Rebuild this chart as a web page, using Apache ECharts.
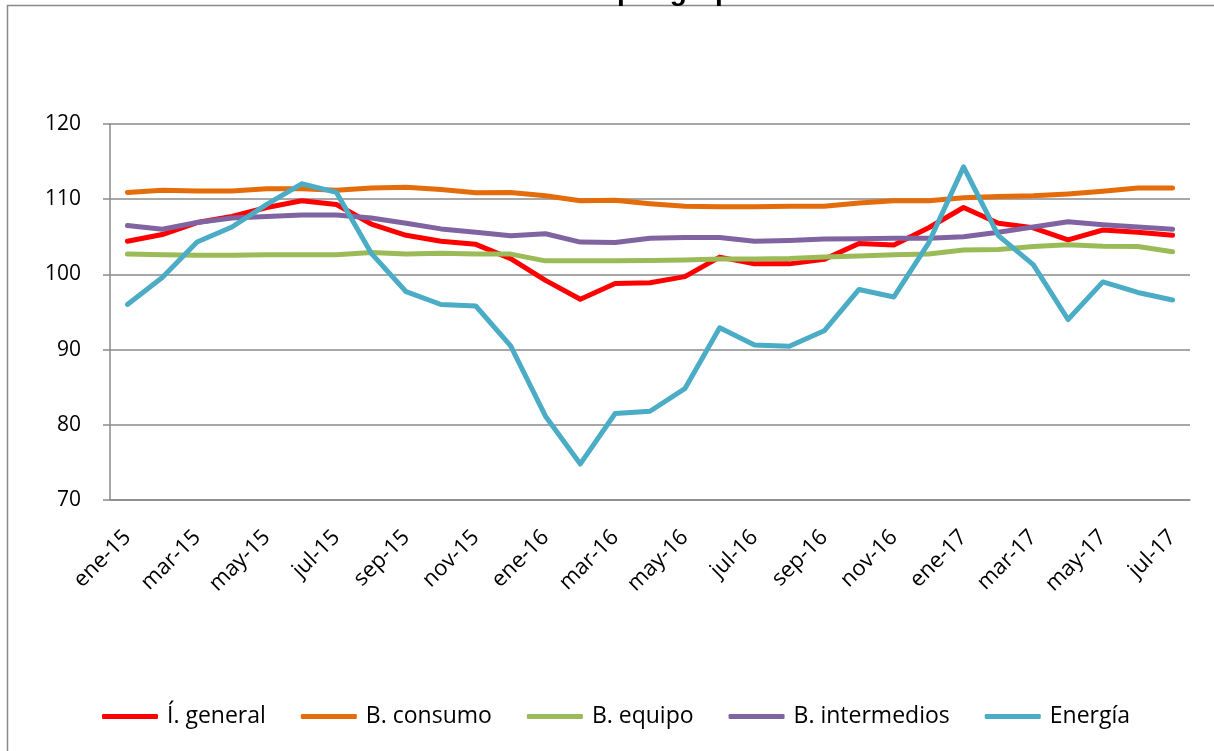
<!DOCTYPE html>
<html>
<head>
<meta charset="utf-8">
<script src="https://cdn.jsdelivr.net/npm/echarts@6/dist/echarts.min.js"></script>
<style>
  html, body { margin: 0; padding: 0; background: #fff; }
  #chart { width: 1214px; height: 751px; }
</style>
</head>
<body>
<div id="chart"></div>
<script>
// meses ene-15 .. jul-17
const months = ['ene-15','feb-15','mar-15','abr-15','may-15','jun-15','jul-15','ago-15','sep-15','oct-15','nov-15','dic-15',
  'ene-16','feb-16','mar-16','abr-16','may-16','jun-16','jul-16','ago-16','sep-16','oct-16','nov-16','dic-16',
  'ene-17','feb-17','mar-17','abr-17','may-17','jun-17','jul-17']

const general = [104.4,105.3,106.9,107.7,108.9,109.8,109.3,106.7,105.2,104.4,104.0,102.1,99.2,96.7,98.8,98.9,
  99.7,102.3,101.4,101.4,102.0,104.1,103.9,106.2,108.9,106.8,106.2,104.6,105.9,105.6,105.2]
const consumo = [110.9,111.2,111.1,111.1,111.4,111.4,111.2,111.5,111.6,111.3,110.85,110.9,110.45,109.8,109.85,109.4,
  109.05,109.0,109.0,109.05,109.05,109.5,109.8,109.8,110.2,110.35,110.45,110.7,111.05,111.5,111.5]
const equipo = [102.7,102.6,102.55,102.55,102.6,102.6,102.6,102.9,102.7,102.8,102.7,102.7,101.8,101.8,101.8,101.85,
  101.9,102.05,102.05,102.1,102.3,102.45,102.6,102.7,103.25,103.3,103.7,103.95,103.75,103.7,103.0]
const intermedios = [106.5,106.0,106.9,107.5,107.7,107.9,107.9,107.5,106.8,106.05,105.6,105.15,105.4,104.3,104.25,104.8,
  104.9,104.9,104.4,104.5,104.7,104.75,104.8,104.8,105.0,105.6,106.3,107.0,106.6,106.3,106.0]
const energia = [96.0,99.6,104.3,106.3,109.3,112.05,110.9,102.8,97.7,96.0,95.8,90.5,81.15,74.8,81.5,81.8,
  84.8,92.9,90.6,90.45,92.5,98.0,97.0,104.2,114.3,105.15,101.3,94.0,99.0,97.6,96.6]

const names = ['Í. general','B. consumo','B. equipo','B. intermedios','Energía']
const colors = ['#ff0000','#e46c0a','#9bbb59','#8064a2','#4bacc6']
const yTicks = [70, 120, 10] // min, max, intervalo

const font = "'Open Sans', sans-serif"
const chart = echarts.init(document.getElementById('chart'))

function line(name, data, color) {
  return {
    name: name,
    type: 'line',
    data: data,
    symbol: 'none',
    color: color,
    lineStyle: { width: 5, color: color, cap: 'round', join: 'round' },
    animation: false
  }
}

chart.setOption({
  title: {
    text: 'Precios industriales por grupos',
    left: 338,
    top: -27,
    textStyle: { fontFamily: 'Liberation Sans', fontWeight: 'bold', fontSize: 28, color: '#000' }
  },
  graphic: [{
    type: 'rect',
    shape: { x: 7.5, y: 5.5, width: 1300, height: 900 },
    style: { fill: null, stroke: '#8a8a8a', lineWidth: 1.5 },
    z: -10
  }],
  grid: { left: 110, right: 24, top: 124, bottom: 251 },
  legend: {
    left: 102,
    top: 705,
    padding: 0,
    itemGap: 35,
    itemWidth: 56,
    itemHeight: 5,
    icon: 'roundRect',
    textStyle: { fontFamily: font, fontSize: 23, color: '#000', padding: [0, 0, 0, 4] },
    data: names
  },
  xAxis: {
    type: 'category',
    data: months,
    boundaryGap: true,
    axisLine: { lineStyle: { color: '#8a8a8a', width: 1.5 } },
    axisTick: { interval: 1, length: 7, lineStyle: { color: '#8a8a8a', width: 1.5 } },
    axisLabel: {
      interval: 1,
      rotate: 45,
      align: 'right',
      verticalAlign: 'middle',
      margin: 34,
      fontFamily: font,
      fontSize: 22,
      color: '#000'
    },
    splitLine: { show: false }
  },
  yAxis: {
    type: 'value',
    min: yTicks[0],
    max: yTicks[1],
    interval: yTicks[2],
    axisLine: { show: true, lineStyle: { color: '#8a8a8a', width: 1.5 } },
    axisTick: { show: true, length: 7, lineStyle: { color: '#8a8a8a', width: 1.5 } },
    axisLabel: { margin: 29, fontFamily: font, fontSize: 21, color: '#000' },
    splitLine: { lineStyle: { color: '#8a8a8a', width: 1.5 } }
  },
  series: [
    line(names[0], general, colors[0]),
    line(names[1], consumo, colors[1]),
    line(names[2], equipo, colors[2]),
    line(names[3], intermedios, colors[3]),
    line(names[4], energia, colors[4])
  ]
})
</script>
</body>
</html>
